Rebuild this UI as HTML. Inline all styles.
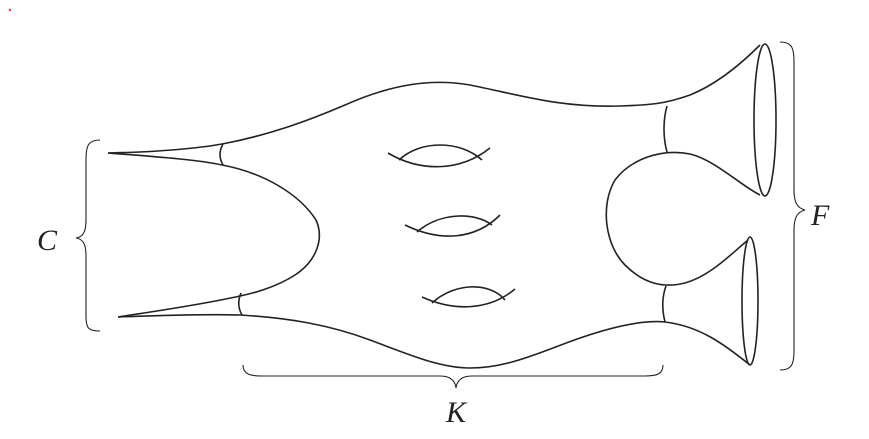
<!DOCTYPE html>
<html><head><meta charset="utf-8"><style>
html,body{margin:0;padding:0;background:#fff;}
svg{display:block;}
text{font-family:"Liberation Serif",serif;font-style:italic;font-size:30px;fill:#222;}
</style></head><body>
<svg width="869" height="439" viewBox="0 0 869 439">
<circle cx="10" cy="10" r="1.2" fill="#e33"/>
<g fill="none" stroke="#222" stroke-width="1.6">
<path d="M108,153 C160,152 200,148 222,144 C270,135 310,120 345,105 C390,85 430,78 470,85 C520,95 560,108 620,106 C650,105 665,104 690,95 C720,83 745,60 760,45"/>
<path d="M108,153 C160,157 200,160 222,165 C265,173 300,195 316,220 C325,240 315,262 295,275 C275,288 250,294 240,296 C200,305 150,312 118,317"/>
<path d="M118,317 C170,315 210,314 240,315 C290,318 330,325 370,340 C410,355 440,368 470,368 C510,368 545,350 580,338 C615,326 645,320 665,322 C700,326 725,345 750,365"/>
<path d="M760,195 C740,185 715,160 690,154 C660,148 630,160 615,180 C600,205 605,245 625,265 C645,285 665,288 685,283 C710,276 730,255 748,240"/>
<ellipse cx="765" cy="120" rx="11" ry="76"/>
<ellipse cx="750" cy="301" rx="8" ry="64"/>
<path d="M223,144 C219,151 219,158 223,165"/>
<path d="M241,293 C238,300 238,308 242,315"/>
<path d="M667,106 C663,120 663,138 667,152"/>
<path d="M666,286 C662,297 662,310 665,322"/>
<g>
<path d="M388,153 C420,172 460,172 490,148"/>
<path d="M399,160 C420,140 460,140 482,160"/>
</g>
<g>
<path d="M405,225 C440,242 475,240 500,215"/>
<path d="M417,232 C440,212 475,212 492,225"/>
</g>
<g>
<path d="M422,297 C455,312 490,310 515,289"/>
<path d="M432,303 C455,282 490,282 505,300"/>
</g>
<path stroke-width="1.1" d="M100,140 C88,140 86,146 86,160 L86,220 C86,232 83,237 76,238 C83,239 86,244 86,256 L86,316 C86,328 88,331 100,331"/>
<path stroke-width="1.1" d="M780,42 C792,42 794,48 794,62 L794,190 C794,202 797,208 805,210 C797,212 794,218 794,230 L794,350 C794,364 792,370 780,370"/>
<path stroke-width="1.1" d="M243,365 C243,374 250,376 262,376 L440,376 C450,376 455,380 456,388 C457,380 462,376 472,376 L645,376 C657,376 663,374 663,365"/>
</g>
<text x="37" y="250">C</text>
<text x="811" y="225">F</text>
<text x="446" y="422">K</text>
</svg>
</body></html>
